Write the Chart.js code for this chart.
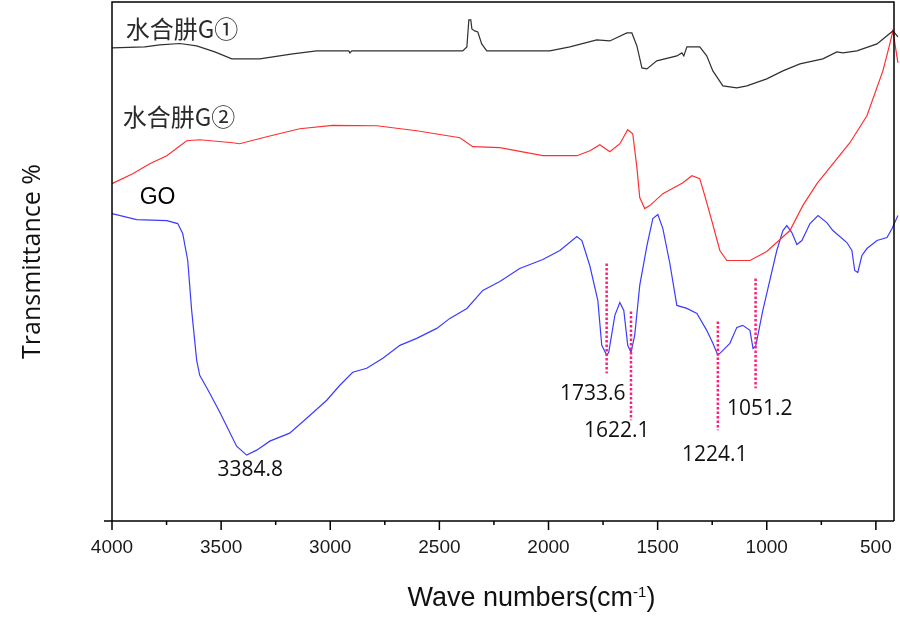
<!DOCTYPE html>
<html>
<head>
<meta charset="utf-8">
<script src="https://cdn.jsdelivr.net/npm/chart.js@4.4.1/dist/chart.umd.min.js"></script>
<style>
  html, body { margin: 0; padding: 0; background: #fff; }
  canvas { display: block; }
</style>
</head>
<body>
<canvas id="graficoIR" width="900" height="629"></canvas>
<script>
// numeros de onda (cm-1) e transmitancia (unidades arbitrarias, curvas deslocadas)
const ondasG1 = [4000, 3850, 3781, 3690, 3612, 3529, 3451, 3323, 3263, 3172, 3062, 2915, 2910, 2901, 2393, 2374, 2365, 2356, 2351, 2338, 2324, 2306, 2283, 1994, 1902, 1779, 1719, 1641, 1618, 1595, 1572, 1549, 1504, 1412, 1389, 1380, 1366, 1307, 1275, 1247, 1201, 1137, 1091, 1000, 926, 848, 743, 679, 651, 587, 495, 422, 399];
const valoresG1 = [118.5, 118.75, 119.25, 119.6, 119, 117.5, 115.75, 115.75, 116.25, 117, 117.75, 117.75, 117.25, 117.75, 117.75, 118.75, 125.5, 125.5, 123.25, 122.75, 122.5, 119.5, 117.75, 117.75, 118.75, 120.5, 120.25, 122.25, 122.25, 119, 113.5, 113.25, 115.25, 116.5, 117.25, 116.5, 118.75, 118.75, 116.5, 112.75, 109, 108.5, 109, 110.75, 112.75, 114.5, 115.75, 117.5, 117.25, 117.75, 119.5, 122.75, 121.25];

const ondasG2 = [4000, 3905, 3827, 3749, 3658, 3598, 3447, 3415, 3291, 3140, 2989, 2787, 2604, 2406, 2347, 2223, 2026, 1870, 1810, 1765, 1719, 1673, 1637, 1614, 1595, 1582, 1559, 1536, 1476, 1384, 1343, 1307, 1284, 1252, 1215, 1183, 1077, 1000, 894, 835, 770, 619, 541, 468, 436, 422, 399];
const valoresG2 = [84.5, 87, 89.5, 91.5, 95.25, 95.5, 94.75, 94.5, 96.25, 98.25, 99.1, 99, 97.75, 96, 93.75, 93.5, 91.5, 91.5, 92.75, 94.25, 92.5, 94.5, 98, 97, 88.5, 81, 78.25, 79, 82, 84.75, 86.5, 85.75, 81.5, 75.25, 67.75, 65.25, 65.25, 67.5, 72.75, 79, 84.5, 94.75, 101.5, 112.75, 119.5, 122.75, 114.75];

const ondasGO = [4000, 3887, 3749, 3699, 3676, 3653, 3635, 3612, 3598, 3552, 3506, 3429, 3383, 3337, 3277, 3186, 3108, 3016, 2956, 2897, 2833, 2759, 2681, 2604, 2512, 2452, 2374, 2301, 2223, 2132, 2026, 1948, 1870, 1847, 1811, 1774, 1756, 1733, 1724, 1696, 1673, 1655, 1637, 1622, 1605, 1582, 1549, 1522, 1499, 1476, 1444, 1412, 1366, 1320, 1275, 1247, 1224, 1201, 1169, 1137, 1110, 1077, 1063, 1051, 1018, 986, 954, 926, 908, 885, 862, 839, 802, 765, 725, 697, 633, 610, 597, 583, 564, 541, 495, 449, 426, 399];
const valoresGO = [77, 75.5, 75.25, 74.5, 72, 65.25, 52.75, 40.25, 36.5, 32, 27.25, 18.75, 16.5, 17.75, 20, 22, 25.75, 30.25, 34, 37.25, 38.25, 40.75, 44, 45.75, 48.25, 50.75, 53.25, 57.75, 60, 63.25, 65.5, 67.75, 71.25, 70.25, 64, 55.25, 44, 41.5, 42.25, 51.5, 54.75, 52.75, 44, 42.25, 46.5, 59, 69, 75.75, 76.75, 73.25, 64.5, 54, 53.25, 52, 47.75, 44.5, 41.5, 42.75, 44.5, 48.5, 49, 47.75, 43.25, 43.75, 52.75, 60.25, 67.75, 72.75, 74, 72.25, 69.25, 70.25, 74.5, 76.5, 74.75, 72.75, 69.75, 67.75, 62.75, 62.25, 66.5, 68.25, 70.25, 71, 73.25, 76.5];

// picos marcados no GO
const picos = [1733.6, 1622.1, 1224.1, 1051.2];
const picoTopo = [64.5, 52.5, 50, 60.75];
const picoBase = [37, 25.25, 22.75, 33.25];
const rotulosPico = ['3384.8', '1733.6', '1622.1', '1224.1', '1051.2'];

const nomesSeries = ['水合肼G①', '水合肼G②', 'GO'];
const marcasX = [4000, 3750, 3500, 3250, 3000, 2750, 2500, 2250, 2000, 1750, 1500, 1250, 1000, 750, 500];

function juntaPontos(ondas, valores) {
  return ondas.map((o, i) => ({ x: o, y: valores[i] }));
}

function curva(ondas, valores, cor) {
  return {
    data: juntaPontos(ondas, valores),
    borderColor: cor,
    borderWidth: 1.2,
    pointRadius: 0,
    tension: 0,
    clip: false
  };
}

const linhasPico = picos.map((p, i) => ({
  data: [{ x: p, y: picoTopo[i] }, { x: p, y: picoBase[i] }],
  borderColor: '#ff1f78',
  borderWidth: 2.5,
  borderDash: [2.5, 2],
  pointRadius: 0
}));

// onde ficam os textos (em coordenadas dos eixos)
const posRotulos = [[3367, 12.75], [1797, 31.9], [1687, 22.5], [1238, 16.5], [1032, 28]];
const posNomes = [[3937, 123.25], [3951, 101.25], [3873, 81]];

const desenhos = {
  id: 'desenhos',
  afterDraw(chart) {
    const { ctx, chartArea: a, scales: { x, y } } = chart;
    ctx.save();
    ctx.strokeStyle = '#000';
    ctx.lineWidth = 1.5;
    ctx.beginPath();
    ctx.moveTo(a.left, a.bottom);
    ctx.lineTo(a.left, a.top);
    ctx.lineTo(a.right, a.top);
    ctx.lineTo(a.right, a.bottom);
    ctx.moveTo(a.left - 8, a.bottom);
    ctx.lineTo(a.right, a.bottom);
    marcasX.forEach(v => {
      const px = x.getPixelForValue(v);
      ctx.moveTo(px, a.bottom);
      ctx.lineTo(px, a.bottom + (v % 500 === 0 ? 9 : 4));
    });
    ctx.stroke();

    ctx.fillStyle = '#111';
    ctx.textBaseline = 'middle';
    ctx.textAlign = 'center';
    ctx.font = '21px "Open Sans"';
    rotulosPico.forEach((t, i) => {
      ctx.fillText(t, x.getPixelForValue(posRotulos[i][0]), y.getPixelForValue(posRotulos[i][1]));
    });

    ctx.textAlign = 'left';
    nomesSeries.forEach((t, i) => {
      ctx.font = i < 2 ? '24px "Noto Sans CJK SC"' : '23px "Liberation Sans"';
      ctx.fillStyle = i < 2 ? '#2a2a2a' : '#000';
      ctx.fillText(t, x.getPixelForValue(posNomes[i][0]), y.getPixelForValue(posNomes[i][1]));
    });

    // titulo do eixo x com expoente
    ctx.fillStyle = '#111';
    ctx.textBaseline = 'alphabetic';
    const base = 'Wave numbers(cm';
    ctx.font = '27px "Liberation Sans"';
    const w1 = ctx.measureText(base).width;
    const w3 = ctx.measureText(')').width;
    ctx.font = '15px "Liberation Sans"';
    const w2 = ctx.measureText('-1').width;
    let xi = 531.5 - (w1 + w2 + w3) / 2;
    ctx.font = '27px "Liberation Sans"';
    ctx.fillText(base, xi, 606);
    ctx.font = '15px "Liberation Sans"';
    ctx.fillText('-1', xi + w1, 597);
    ctx.font = '27px "Liberation Sans"';
    ctx.fillText(')', xi + w1 + w2, 606);
    ctx.restore();
  }
};

const graficoIR = new Chart(document.getElementById('graficoIR'), {
  type: 'line',
  data: {
    datasets: [
      ...linhasPico,
      curva(ondasG1, valoresG1, '#303030'),
      curva(ondasG2, valoresG2, '#ff3030'),
      curva(ondasGO, valoresGO, '#3c3cff')
    ]
  },
  options: {
    responsive: false,
    animation: false,
    layout: { padding: { top: 2, right: 6, left: 0, bottom: 0 } },
    plugins: { legend: { display: false }, tooltip: { enabled: false } },
    scales: {
      x: {
        type: 'linear',
        reverse: true,
        min: 417,
        max: 4000,
        afterBuildTicks: s => { s.ticks = marcasX.map(v => ({ value: v })); },
        afterFit: s => { s.height = 108; },
        grid: { display: false },
        border: { display: false },
        ticks: {
          autoSkip: false,
          maxRotation: 0,
          padding: 7,
          color: '#1a1a1a',
          font: { family: 'Liberation Sans', size: 19 },
          callback: v => (v % 500 === 0 ? String(v) : '')
        }
      },
      y: {
        min: 0,
        max: 130,
        afterFit: s => { s.width = 112; },
        grid: { display: false },
        border: { display: false },
        ticks: { display: false },
        title: {
          display: true,
          text: 'Transmittance %',
          color: '#111',
          font: { family: 'Open Sans', size: 25 },
          padding: { top: 18, bottom: 0 }
        }
      }
    }
  },
  plugins: [desenhos]
});
</script>
</body>
</html>
